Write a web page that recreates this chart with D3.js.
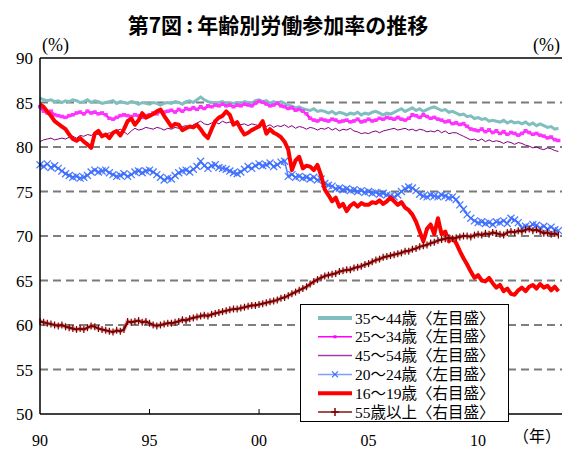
<!DOCTYPE html>
<html><head><meta charset="utf-8">
<script src="https://cdn.jsdelivr.net/npm/d3@7"></script>
<style>
html,body{margin:0;padding:0;background:#fff;}
svg{display:block;}
</style></head>
<body>
<svg id="chart" width="562" height="450"></svg>
<script>
// ---- data (bi-monthly, Jan 1990 - Sep 2013) ----
const startYear = 1990;
const periodsPerYear = 6;
const xTickYears = [1990, 1995, 2000, 2005, 2010];
const xTickLabels = ["90", "95", "00", "05", "10"];
const yTicks = [50, 55, 60, 65, 70, 75, 80, 85, 90];
const seriesNames = ["35～44歳〈左目盛〉","25～34歳〈左目盛〉","45～54歳〈左目盛〉","20～24歳〈左目盛〉","16～19歳〈右目盛〉","55歳以上〈右目盛〉"];

// left axis series
const age35_44 = [
85.5,85.3,85.2,85.3,85.1,85.2, 85.0,85.2,85.1,85.3,85.2,85.0, 85.1,85.3,85.0,85.2,85.1,84.9,
85.0,85.1,85.2,84.9,85.1,85.0, 84.9,85.1,85.0,84.8,85.0,84.9, 84.8,85.0,84.9,84.7,84.9,85.0,
84.9,85.1,85.0,84.8,85.1,85.2, 85.0,85.3,85.6,85.3,85.1,85.0, 84.9,85.0,85.1,84.8,85.0,84.9,
85.0,84.8,85.1,85.0,84.9,85.2, 85.3,85.1,85.2,84.9,85.1,84.9, 85.1,84.9,84.7,84.6,84.4,84.5,
84.3,84.2,84.1,84.3,84.0,84.1, 84.0,83.8,84.0,83.7,83.9,83.8, 83.6,83.8,83.7,83.9,83.6,83.8,
83.7,83.9,84.0,83.8,83.6,83.8, 83.7,83.9,84.1,84.3,84.0,84.2, 84.4,84.1,84.3,84.0,84.2,84.4,
84.5,84.3,84.1,84.2,83.9,84.0, 83.8,83.6,83.7,83.4,83.5,83.2, 83.3,83.1,83.2,82.9,83.0,82.9,
82.8,83.0,82.7,82.9,82.7,82.8, 82.6,82.8,82.5,82.7,82.4,82.6, 82.4,82.2,82.3,82.0,82.1];
const age25_34 = [
84.5,84.0,83.8,84.0,83.6,83.5, 83.4,83.3,83.5,83.6,83.8,83.9, 83.7,84.0,83.8,83.9,83.7,83.8,
83.6,83.2,83.1,83.3,83.5,83.6, 83.5,83.4,83.6,83.5,83.3,83.5, 83.6,83.8,83.7,84.0,83.9,84.0,
84.1,83.9,84.2,84.0,84.3,84.2, 84.4,84.2,84.5,84.3,84.6,84.5, 84.7,84.6,84.8,84.6,84.7,84.5,
84.7,84.6,84.8,84.7,84.6,84.9, 85.1,85.0,84.8,84.6,84.7,84.9, 84.6,84.5,84.3,84.4,84.1,84.2,
84.0,83.7,83.2,83.0,82.9,83.1, 83.0,82.9,83.1,83.0,82.8,82.9, 83.0,82.8,82.9,83.1,82.8,82.9,
83.1,82.9,83.0,83.2,83.1,83.3, 83.2,83.1,83.3,83.1,83.0,83.2, 83.6,83.5,83.3,83.6,83.4,83.2,
83.3,83.1,83.0,82.8,82.9,82.6, 82.7,82.5,82.6,82.3,82.0,81.9, 81.8,82.0,81.7,81.9,81.6,81.8,
81.5,81.7,81.4,81.6,81.5,81.3, 81.5,81.8,81.6,81.4,81.5,81.3, 81.2,81.0,81.1,80.8,80.7];
const age45_54 = [
80.6,80.8,80.9,81.0,80.8,80.9, 81.0,80.9,81.1,81.2,81.0,81.3, 81.2,81.4,81.3,81.5,81.4,81.3,
81.4,81.6,81.5,81.8,82.0,81.7, 81.4,81.8,82.1,81.9,82.0,82.2, 82.1,82.0,82.2,82.1,81.9,82.1,
82.0,82.2,82.1,82.3,82.4,82.2, 82.5,82.7,82.9,82.6,82.5,82.7, 82.8,82.6,82.9,82.7,82.8,82.6,
82.7,82.5,82.6,82.4,82.6,82.5, 82.4,82.6,82.3,82.5,82.2,82.4, 82.3,82.5,82.2,82.4,82.1,82.3,
82.2,82.0,82.2,82.1,81.9,82.1, 82.0,82.2,81.9,82.1,81.8,82.0, 81.9,82.1,81.8,81.7,81.5,81.6,
81.5,81.7,81.8,81.6,81.8,81.9, 82.0,82.1,81.9,82.0,82.1,81.9, 82.0,81.8,82.0,81.9,81.7,81.8,
81.7,81.9,81.6,81.8,81.5,81.6, 81.6,81.4,81.2,81.0,80.8,80.9, 80.7,80.9,80.6,80.8,80.6,80.7,
80.6,80.4,80.6,80.5,80.3,80.5, 80.4,80.2,80.1,79.9,80.0,79.8, 79.7,79.9,79.8,79.6,79.5];
const age20_24 = [
78.0,77.8,78.1,77.7,77.9,77.6, 77.3,77.0,76.8,76.6,76.7,76.5, 76.6,76.8,77.2,77.4,77.2,77.3,
77.4,77.1,76.9,76.7,76.8,77.0, 76.7,76.9,77.2,77.3,77.1,77.3, 77.4,77.2,76.9,76.6,76.3,76.5,
76.4,76.8,77.1,77.3,77.4,77.2, 77.5,77.8,78.4,77.9,77.6,77.9, 78.0,77.7,77.6,77.5,77.3,77.1,
77.0,77.2,77.5,77.8,77.6,77.9, 78.1,77.9,78.0,78.2,77.8,78.0, 78.3,78.4,76.7,76.9,76.6,76.7,
76.5,76.6,76.4,76.6,76.3,76.4, 75.9,75.7,75.6,75.3,75.4,75.2, 75.3,75.1,75.2,75.0,75.1,74.9,
75.0,74.8,74.9,74.7,74.8,74.6, 74.5,74.4,74.6,75.0,75.3,75.5, 75.4,75.1,74.7,74.5,74.4,74.6,
74.5,74.4,74.6,74.5,74.3,74.4, 74.1,73.5,73.0,72.4,72.0,71.7, 71.5,71.6,71.4,71.5,71.3,71.6,
71.5,71.7,71.4,72.0,71.8,71.5, 70.9,71.1,71.0,71.3,71.2,70.9, 71.1,70.8,71.0,70.7,70.6];
// right axis series
const age16_19 = [
54.8,54.5,54.0,53.5,52.9,52.6, 52.3,52.0,51.4,50.9,50.7,51.0, 50.6,50.3,49.9,51.5,51.8,51.2,
51.4,51.0,51.6,51.8,51.3,52.0, 52.9,53.2,52.5,53.0,53.8,53.3, 53.5,53.7,54.0,54.2,53.5,52.9,
52.3,52.6,52.5,51.9,52.1,52.3, 52.2,52.5,52.0,51.4,51.0,52.0, 52.9,53.3,53.5,54.0,53.6,52.5,
52.8,52.0,51.4,51.6,51.9,52.1, 52.3,52.9,51.5,52.0,51.6,51.4, 51.1,50.6,49.7,47.4,48.5,48.9,
47.6,47.9,47.8,47.4,48.0,46.8, 45.2,44.6,43.9,44.3,43.3,43.6, 42.8,43.4,43.7,43.3,43.7,43.5,
43.5,43.8,43.7,44.0,43.6,43.9, 44.3,43.9,43.5,43.8,43.2,42.9, 42.4,41.6,40.5,39.4,40.8,41.3,
40.2,42.0,40.2,40.5,39.4,39.8, 39.2,38.3,37.5,36.8,36.0,35.3, 35.6,35.0,34.9,35.3,34.7,34.2,
34.5,33.8,34.1,33.5,33.4,33.9, 34.2,33.8,34.3,34.5,34.1,34.6, 34.2,34.4,33.9,34.3,33.8];
const age55plus = [
30.4,30.3,30.2,30.1,30.0,29.9, 30.0,29.8,29.7,29.6,29.5,29.6, 29.5,29.7,29.9,29.8,29.6,29.5,
29.4,29.3,29.2,29.4,29.3,29.5, 30.4,30.3,30.4,30.5,30.3,30.4, 30.2,30.0,29.9,30.0,30.1,30.2,
30.2,30.3,30.4,30.6,30.5,30.7, 30.8,30.9,31.0,31.1,31.0,31.2, 31.3,31.4,31.5,31.6,31.7,31.8,
31.8,31.9,32.0,32.1,32.2,32.2, 32.3,32.4,32.5,32.6,32.7,32.8, 33.0,33.1,33.3,33.5,33.7,33.9,
34.1,34.3,34.6,34.9,35.1,35.3, 35.5,35.6,35.7,35.8,36.0,36.1, 36.2,36.2,36.4,36.5,36.6,36.8,
36.9,37.1,37.3,37.4,37.6,37.7, 37.8,37.9,38.0,38.1,38.3,38.3, 38.5,38.6,38.8,38.9,39.0,39.2,
39.3,39.5,39.6,39.7,39.8,39.7, 39.8,39.9,40.0,40.0,39.9,40.1, 40.2,40.1,40.3,40.2,40.4,40.3,
40.2,40.1,40.4,40.5,40.4,40.6, 40.5,40.7,40.8,40.6,40.7,40.5, 40.3,40.4,40.2,40.3,40.1];

// ---- chart ----
const svg = d3.select("#chart");
const W = 562, H = 450;
const m = {left: 40, right: 0, top: 58, bottom: 36};
const x = d3.scaleLinear().domain([1990, 2013.83]).range([m.left, W - m.right]);
const yL = d3.scaleLinear().domain([50, 90]).range([H - m.bottom, m.top]);
const yR = d3.scaleLinear().domain([20, 60]).range([H - m.bottom, m.top]);
const t = i => startYear + i / periodsPerYear;

const serif = "'Liberation Serif','Noto Sans CJK JP',serif";

// title
svg.append("text").attr("x", 278).attr("y", 33).attr("text-anchor", "middle")
  .attr("font-family", "'Noto Sans CJK JP',sans-serif").attr("font-weight", "bold")
  .attr("font-size", 21).text("第7図\u2009:\u2009年齢別労働参加率の推移");

// unit labels
svg.append("text").attr("x", 42).attr("y", 51).attr("font-family", serif).attr("font-size", 18).text("(%)");
svg.append("text").attr("x", 560).attr("y", 51).attr("text-anchor", "end").attr("font-family", serif).attr("font-size", 18).text("(%)");
svg.append("text").attr("x", 561).attr("y", 442).attr("text-anchor", "end").attr("font-family", serif).attr("font-size", 16).text("（年）");

// grid lines
const g = svg.append("g");
yTicks.filter(v => v > 50 && v < 90).forEach(v => {
  const gray = (v % 10 === 5);
  g.append("line").attr("x1", m.left).attr("x2", W).attr("y1", yL(v)).attr("y2", yL(v))
    .attr("stroke", gray ? "#7a7a7a" : "#000").attr("stroke-width", gray ? 2 : 1.2)
    .attr("stroke-dasharray", "8,5");
});
// top border
g.append("line").attr("x1", m.left).attr("x2", W).attr("y1", yL(90)).attr("y2", yL(90)).attr("stroke", "#000").attr("stroke-width", 1.5);

// left axis labels
yTicks.forEach(v => {
  svg.append("text").attr("x", 33).attr("y", yL(v) + 6).attr("text-anchor", "end")
    .attr("font-family", serif).attr("font-size", 17).text(v);
});
// x labels
xTickYears.forEach((yr, i) => {
  svg.append("text").attr("x", x(yr)).attr("y", 446).attr("text-anchor", "middle")
    .attr("font-family", serif).attr("font-size", 16).text(xTickLabels[i]);
  if (i > 0) svg.append("line").attr("x1", x(yr)).attr("x2", x(yr)).attr("y1", yL(50)).attr("y2", yL(50) - 5)
    .attr("stroke", "#000").attr("stroke-width", 1);
});

// series
const lineL = d3.line().x((d, i) => x(t(i))).y(d => yL(d));
const lineR = d3.line().x((d, i) => x(t(i))).y(d => yR(d));
const plot = svg.append("g");

plot.append("path").datum(age35_44).attr("d", lineL).attr("fill", "none").attr("stroke", "#7fbfbf").attr("stroke-width", 3);
plot.append("path").datum(age25_34).attr("d", lineL).attr("fill", "none").attr("stroke", "#ff00ff").attr("stroke-width", 2.4);
plot.selectAll(".m25").data(age25_34).enter().append("rect")
  .attr("x", (d, i) => x(t(i)) - 2).attr("y", d => yL(d) - 2).attr("width", 4).attr("height", 3.5).attr("fill", "#ff33ff");
plot.append("path").datum(age45_54).attr("d", lineL).attr("fill", "none").attr("stroke", "#800080").attr("stroke-width", 1);
plot.append("path").datum(age20_24).attr("d", lineL).attr("fill", "none").attr("stroke", "#4d7fff").attr("stroke-width", 1.5);
const xs = 3.5;
plot.selectAll(".m20").data(age20_24).enter().append("path")
  .attr("d", (d, i) => { const cx = x(t(i)), cy = yL(d); return `M${cx-xs},${cy-xs}L${cx+xs},${cy+xs}M${cx-xs},${cy+xs}L${cx+xs},${cy-xs}`; })
  .attr("stroke", "#3a6cff").attr("stroke-width", 1.3).attr("fill", "none").attr("opacity", 0.9);
plot.append("path").datum(age16_19).attr("d", lineR).attr("fill", "none").attr("stroke", "#ff0000").attr("stroke-width", 4).attr("stroke-linejoin", "round");
plot.append("path").datum(age55plus).attr("d", lineR).attr("fill", "none").attr("stroke", "#c08080").attr("stroke-width", 4.5).attr("opacity", 0.5);
plot.append("path").datum(age55plus).attr("d", lineR).attr("fill", "none").attr("stroke", "#800000").attr("stroke-width", 2.2);
plot.selectAll(".m55").data(age55plus).enter().append("path")
  .attr("d", (d, i) => { const cx = x(t(i)), cy = yR(d); return `M${cx},${cy-3.5}L${cx},${cy+3.5}`; })
  .attr("stroke", "#800000").attr("stroke-width", 1.2);

// axes lines
svg.append("line").attr("x1", m.left).attr("x2", m.left).attr("y1", yL(90)).attr("y2", yL(50)).attr("stroke", "#000").attr("stroke-width", 1.5);
svg.append("line").attr("x1", m.left).attr("x2", W).attr("y1", yL(50)).attr("y2", yL(50)).attr("stroke", "#000").attr("stroke-width", 1.5);

// legend
const lg = svg.append("g");
lg.append("rect").attr("x", 300.5).attr("y", 304.5).attr("width", 208).attr("height", 117).attr("fill", "#fff").attr("stroke", "#000").attr("stroke-width", 1);
const rowY = i => 318 + i * 18.8;
const styles = [
  {c: "#7fbfbf", w: 4}, {c: "#ff00ff", w: 1.5, mk: "sq"}, {c: "#a040a0", w: 1.5},
  {c: "#7f9fff", w: 1.5, mk: "x"}, {c: "#ff0000", w: 4}, {c: "#a05050", w: 2, mk: "+"}];
seriesNames.forEach((name, i) => {
  const yy = rowY(i);
  const s = styles[i];
  lg.append("line").attr("x1", 318).attr("x2", 352).attr("y1", yy).attr("y2", yy).attr("stroke", s.c).attr("stroke-width", s.w);
  if (s.mk === "sq") lg.append("rect").attr("x", 333.5).attr("y", yy - 1.5).attr("width", 3).attr("height", 3).attr("fill", "#ff00ff");
  if (s.mk === "x") lg.append("path").attr("d", `M${335-3},${yy-3}L${335+3},${yy+3}M${335-3},${yy+3}L${335+3},${yy-3}`).attr("stroke", "#3f6fff").attr("stroke-width", 1.2);
  if (s.mk === "+") lg.append("path").attr("d", `M335,${yy-4}L335,${yy+4}M331,${yy}L339,${yy}`).attr("stroke", "#800000").attr("stroke-width", 1.5);
  lg.append("text").attr("x", 355).attr("y", yy + 5.5).attr("font-family", serif).attr("font-size", 15.5).text(name);
});
</script>
</body></html>
